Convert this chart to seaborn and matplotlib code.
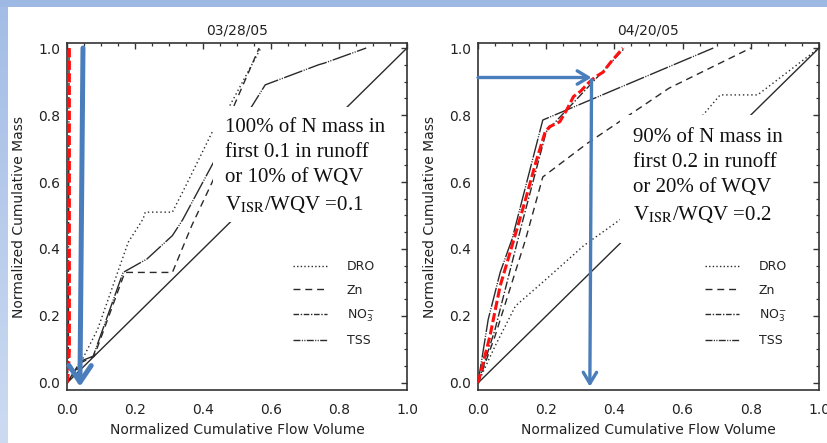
import matplotlib
matplotlib.use("Agg")
import numpy as np
import pandas as pd
import matplotlib.pyplot as plt
import seaborn as sns
from matplotlib.ticker import MultipleLocator
from matplotlib.patches import Rectangle
from matplotlib.lines import Line2D
from matplotlib.colors import LinearSegmentedColormap

# ---------------- data ----------------
titles = ["03/28/05", "04/20/05"]
legend_labels = ["DRO", "Zn", "NO$_{3}^{-}$", "TSS"]
x_label = "Normalized Cumulative Flow Volume"
y_label = "Normalized Cumulative Mass"
tick_values = [0.0, 0.2, 0.4, 0.6, 0.8, 1.0]

# Panel 1 (03/28/05)
dro1_x = [0, 0.03, 0.09, 0.18, 0.224, 0.23, 0.31, 0.35, 0.43, 0.48, 0.57]
dro1_y = [0, 0.04, 0.16, 0.42, 0.49, 0.51, 0.51, 0.59, 0.755, 0.83, 1.0]
zn1_x = [0, 0.04, 0.08, 0.17, 0.31, 0.367, 0.43, 0.49, 0.565]
zn1_y = [0, 0.06, 0.08, 0.33, 0.33, 0.47, 0.606, 0.825, 1.0]
no31_x = [0, 0.004, 0.006]
no31_y = [0, 0.05, 1.0]
tss1_x = [0, 0.04, 0.077, 0.165, 0.235, 0.31, 0.34, 0.43, 0.543, 0.583, 0.74, 0.757, 0.88]
tss1_y = [0, 0.065, 0.08, 0.33, 0.37, 0.44, 0.487, 0.657, 0.825, 0.89, 0.95, 0.955, 1.0]
red1_x = [0, 0.004, 0.007, 0.007]
red1_y = [0, 0.03, 0.1, 1.0]

# Panel 2 (04/20/05)
dro2_x = [0, 0.05, 0.11, 0.2, 0.31, 0.42, 0.66, 0.71, 0.82, 1.0]
dro2_y = [0, 0.11, 0.23, 0.31, 0.41, 0.49, 0.80, 0.86, 0.86, 1.0]
zn2_x = [0, 0.05, 0.14, 0.19, 0.32, 0.56, 0.8]
zn2_y = [0, 0.14, 0.43, 0.615, 0.715, 0.88, 1.0]
no32_x = [0, 0.05, 0.13, 0.2, 0.43]
no32_y = [0, 0.16, 0.48, 0.75, 1.0]
tss2_x = [0, 0.03, 0.065, 0.1, 0.19, 0.69]
tss2_y = [0, 0.19, 0.33, 0.43, 0.785, 1.0]
red2_x = [0, 0.01, 0.035, 0.065, 0.1, 0.14, 0.17, 0.197, 0.21, 0.24, 0.26, 0.28,
          0.30, 0.323, 0.343, 0.367, 0.387, 0.425]
red2_y = [0, 0.04, 0.14, 0.29, 0.41, 0.55, 0.66, 0.75, 0.765, 0.78, 0.815, 0.855,
          0.87, 0.895, 0.913, 0.928, 0.955, 1.0]

# 1:1 reference line
ref_x = [0, 1]
ref_y = [0, 1]

# Annotations
note1 = "100% of N mass in\nfirst 0.1 in runoff\nor 10% of WQV\nV$_{\\mathrm{ISR}}$/WQV =0.1"
note2 = "90% of N mass in\nfirst 0.2 in runoff\nor 20% of WQV\nV$_{\\mathrm{ISR}}$/WQV =0.2"
arrow1_start, arrow1_end = (0.047, 1.0), (0.038, -0.011)
harrow2_start, harrow2_end = (0.0, 0.912), (0.333, 0.912)
varrow2_start, varrow2_end = (0.333, 0.905), (0.328, -0.011)

# ---------------- style ----------------
sns.set_theme(style="white")
plt.rcParams["font.family"] = ["DejaVu Sans"]

W, H = 827, 443
fig = plt.figure(figsize=(W / 100, H / 100), dpi=100)
fig.patch.set_facecolor("white")

# slide decoration: top band and left gradient strip
fig.add_artist(Rectangle((0, 1 - 7 / H), 1, 7 / H, transform=fig.transFigure,
                         facecolor="#9db8e3", edgecolor="none", zorder=0))
bg = fig.add_axes([0, 0, 8 / W, 1 - 7 / H])
grad = np.linspace(0, 1, 256).reshape(-1, 1)
cm = LinearSegmentedColormap.from_list("g", ["#a3bde6", "#cddbf2"])
bg.imshow(grad, aspect="auto", cmap=cm, extent=[0, 1, 0, 1])
bg.axis("off")

LINE = "#2a2a2a"
BLUE = "#4a7dbb"
RED = "#ff1010"

ls_dro = (0, (1, 2.0))
ls_zn = (0, (5, 3.5))
ls_no3 = (0, (6, 1.5, 1, 1.5))
ls_tss = (0, (14, 1.0, 0.8, 1.0, 0.8, 1.0))

axes_px = [(67, 340), (478, 341)]
bottom_px, height_px = 390, 347

panels = [
    dict(dro=(dro1_x, dro1_y), zn=(zn1_x, zn1_y), no3=(no31_x, no31_y),
         tss=(tss1_x, tss1_y), red=(red1_x, red1_y), note=note1,
         note_pos=(0.465, 0.784), box=(0.43, 0.484, 0.55, 0.332)),
    dict(dro=(dro2_x, dro2_y), zn=(zn2_x, zn2_y), no3=(no32_x, no32_y),
         tss=(tss2_x, tss2_y), red=(red2_x, red2_y), note=note2,
         note_pos=(0.455, 0.754), box=(0.416, 0.424, 0.52, 0.369)),
]

axes = []
for i, (p, (lpx, wpx)) in enumerate(zip(panels, axes_px)):
    ax = fig.add_axes([lpx / W, 1 - bottom_px / H, wpx / W, height_px / H])
    axes.append(ax)
    ax.set_facecolor("white")

    sns.lineplot(x=ref_x, y=ref_y, ax=ax, sort=False, estimator=None,
                 color=LINE, linewidth=1.0, zorder=2)
    sns.lineplot(x=p["dro"][0], y=p["dro"][1], ax=ax, sort=False, estimator=None,
                 color=LINE, linewidth=1.0, linestyle=ls_dro, zorder=2)
    sns.lineplot(x=p["zn"][0], y=p["zn"][1], ax=ax, sort=False, estimator=None,
                 color=LINE, linewidth=1.0, linestyle=ls_zn, zorder=2)
    sns.lineplot(x=p["no3"][0], y=p["no3"][1], ax=ax, sort=False, estimator=None,
                 color=LINE, linewidth=1.0, linestyle=ls_no3, zorder=2)
    sns.lineplot(x=p["tss"][0], y=p["tss"][1], ax=ax, sort=False, estimator=None,
                 color=LINE, linewidth=1.0, linestyle=ls_tss, zorder=2)
    sns.lineplot(x=p["red"][0], y=p["red"][1], ax=ax, sort=False, estimator=None,
                 color=RED, linewidth=2.2, linestyle=(0, (3.0, 1.1)), zorder=3)

    ax.set_xlim(0, 1.0)
    ax.set_ylim(-0.021, 1.015)
    ax.set_xticks(tick_values)
    ax.set_yticks(tick_values)
    ax.set_xticklabels([f"{v:.1f}" for v in tick_values])
    ax.set_yticklabels([f"{v:.1f}" for v in tick_values])
    ax.xaxis.set_minor_locator(MultipleLocator(0.05))
    ax.yaxis.set_minor_locator(MultipleLocator(0.05))
    ax.tick_params(which="both", direction="in", top=True, right=True,
                   color="#333333", labelcolor="#222222", labelsize=10)
    ax.tick_params(which="major", length=4.5, width=1.0)
    ax.tick_params(which="minor", length=2.3, width=0.9)
    ax.tick_params(axis="x", which="major", pad=9)
    ax.tick_params(axis="y", which="major", pad=5)
    for s in ax.spines.values():
        s.set_color("#333333")
        s.set_linewidth(1.2)
        s.set_visible(True)

    ax.set_title(titles[i], fontsize=10, color="#222222", pad=6)
    ax.set_xlabel(x_label, fontsize=10, color="#222222", labelpad=5)
    ax.set_ylabel(y_label, fontsize=10, color="#222222", labelpad=9)

    # legend (proxy samples in the original IDL line styles)
    proxies = [Line2D([], [], color=LINE, lw=1.0, linestyle=ls)
               for ls in [(0, (1, 1.6)), (0, (5, 3.5)), (0, (4, 1.2, 1, 1.2)),
                          (0, (5, 1.0, 0.8, 1.0, 0.8, 1.0))]]
    leg = ax.legend(proxies, legend_labels, loc="upper left",
                    bbox_to_anchor=(0.665, 0.375), frameon=False, fontsize=9,
                    handlelength=2.7, handletextpad=1.6, labelspacing=0.85,
                    borderpad=0, borderaxespad=0)
    for t in leg.get_texts():
        t.set_color("#222222")

    # white box behind the note
    bx, by, bw, bh = p["box"]
    ax.add_patch(Rectangle((bx, by), bw, bh, transform=ax.transAxes,
                           facecolor="white", edgecolor="none", zorder=4))
    ax.text(p["note_pos"][0], p["note_pos"][1], p["note"], transform=ax.transAxes,
            fontsize=15, family="Liberation Serif", math_fontfamily="stix",
            va="top", ha="left", color="#111111", linespacing=1.43, zorder=5)

arrow_kw = dict(color=BLUE, shrinkA=0, shrinkB=0)
axes[0].annotate("", xy=arrow1_end, xytext=arrow1_start, annotation_clip=False,
                 arrowprops=dict(arrowstyle="->,head_length=0.6,head_width=0.4",
                                 lw=3.6, mutation_scale=20, **arrow_kw), zorder=6)
axes[1].annotate("", xy=harrow2_end, xytext=harrow2_start, annotation_clip=False,
                 arrowprops=dict(arrowstyle="->,head_length=0.4,head_width=0.24",
                                 lw=2.4, mutation_scale=20, **arrow_kw), zorder=6)
axes[1].annotate("", xy=varrow2_end, xytext=varrow2_start, annotation_clip=False,
                 arrowprops=dict(arrowstyle="->,head_length=0.4,head_width=0.24",
                                 lw=2.4, mutation_scale=20, **arrow_kw), zorder=6)

fig.savefig("out.png", dpi=100, facecolor="white")
